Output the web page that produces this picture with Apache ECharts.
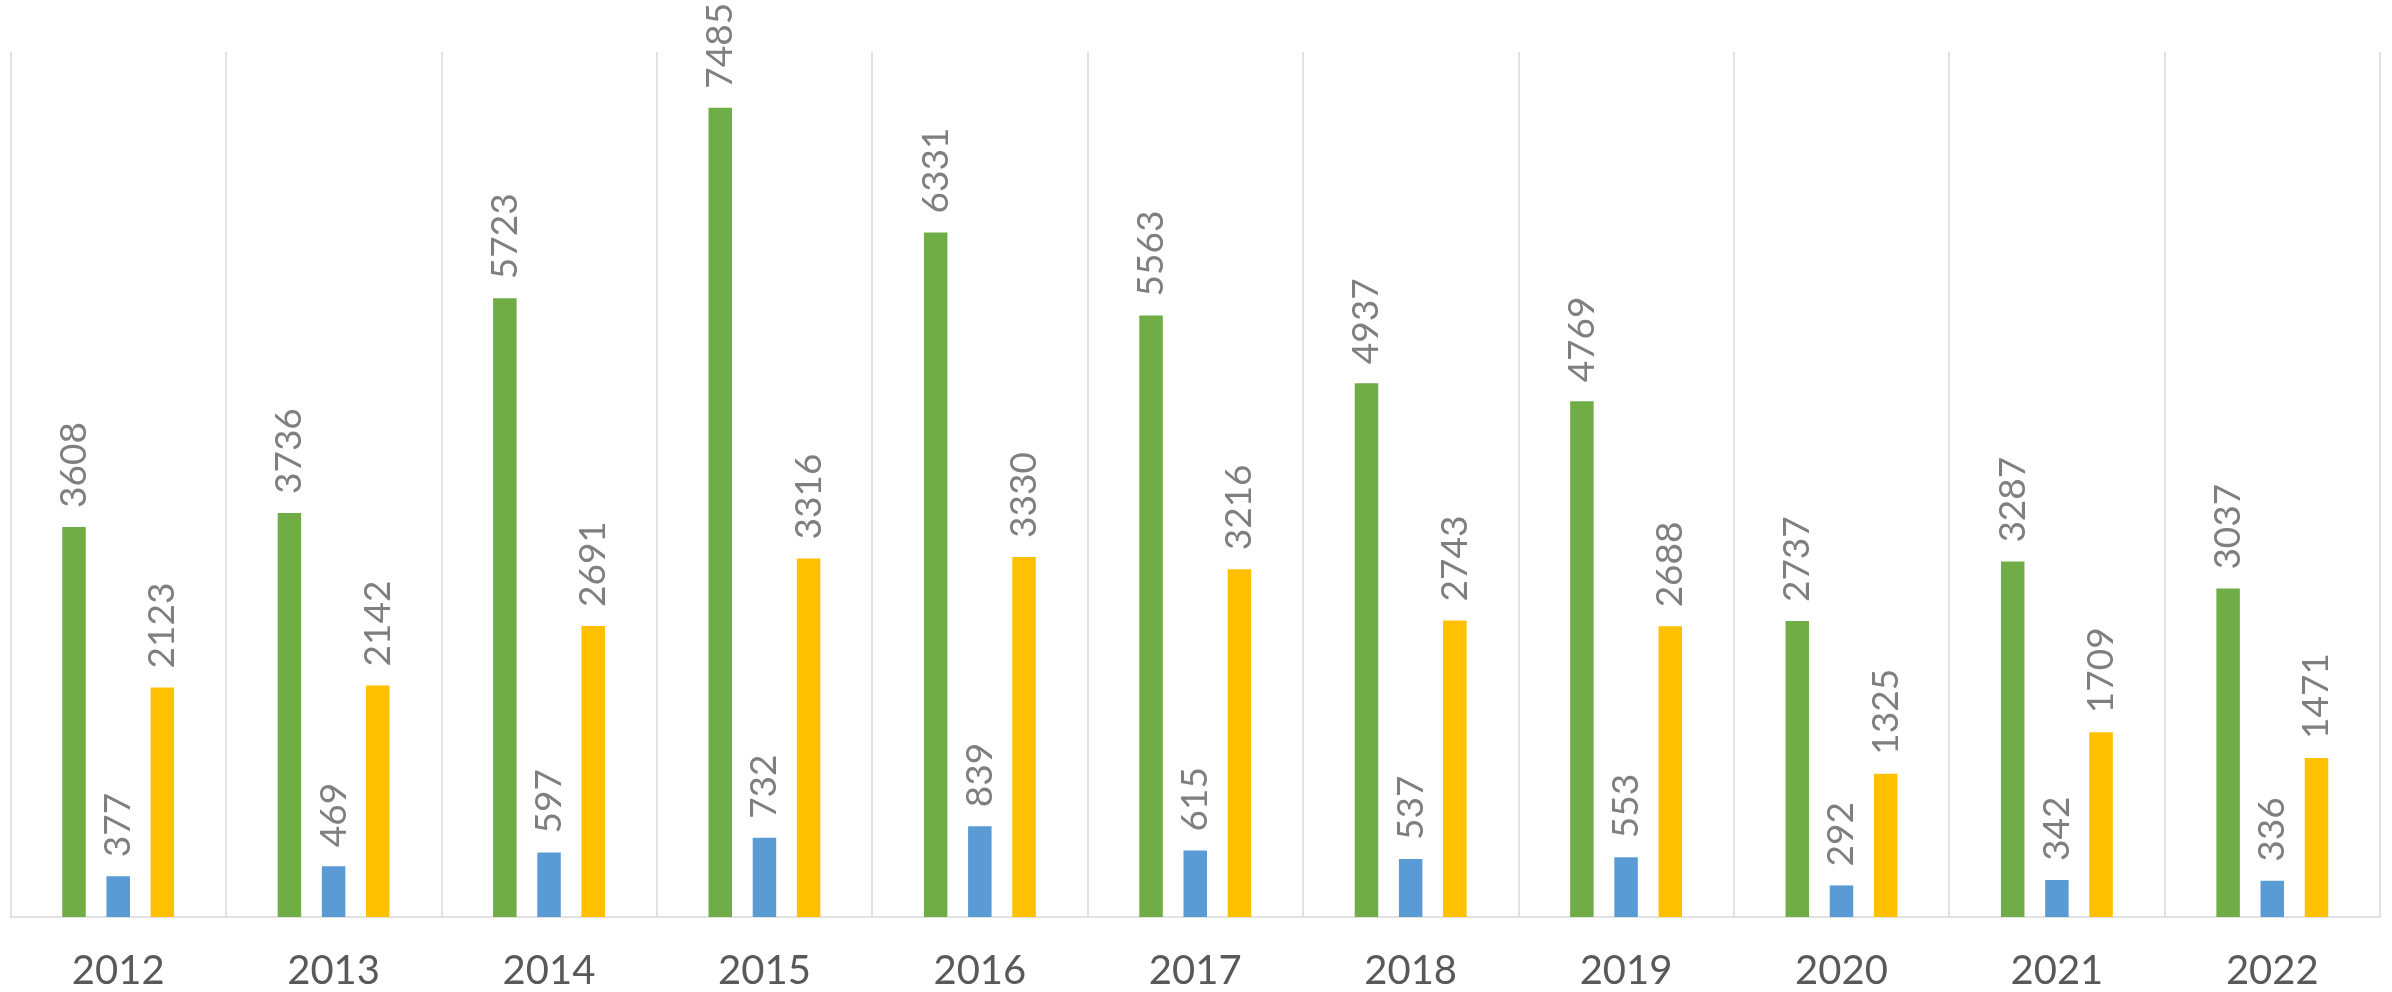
<!DOCTYPE html>
<html>
<head>
<meta charset="utf-8">
<script src="https://cdn.jsdelivr.net/npm/echarts@6/dist/echarts.min.js"></script>
<style>
  html, body { margin: 0; padding: 0; background: #fff; }
  #chart { width: 2392px; height: 992px; }
</style>
</head>
<body>
<div id="chart"></div>
<script>
const years = ['2012', '2013', '2014', '2015', '2016', '2017', '2018', '2019', '2020', '2021', '2022'];
const greenValues = [3608, 3736, 5723, 7485, 6331, 5563, 4937, 4769, 2737, 3287, 3037];
const blueValues = [377, 469, 597, 732, 839, 615, 537, 553, 292, 342, 336];
const yellowValues = [2123, 2142, 2691, 3316, 3330, 3216, 2743, 2688, 1325, 1709, 1471];

const labelStyle = {
  show: true,
  position: 'top',
  rotate: 90,
  align: 'left',
  verticalAlign: 'middle',
  distance: 19,
  color: '#7f7f7f',
  fontSize: 37,
  fontFamily: 'Lato'
};

function makeSeries(name, data, color) {
  return {
    name: name,
    type: 'bar',
    data: data,
    barWidth: 23.5,
    barGap: '88%',
    itemStyle: { color: color },
    label: labelStyle
  };
}

const option = {
  animation: false,
  grid: {
    left: 10.5,
    right: 12,
    top: 52,
    bottom: 75
  },
  xAxis: {
    type: 'category',
    data: years,
    axisLine: { lineStyle: { color: '#d9d9d9', width: 1.5 } },
    axisTick: { show: false },
    splitLine: { show: true, lineStyle: { color: '#d9d9d9', width: 1.5 } },
    axisLabel: {
      color: '#595959',
      fontSize: 40,
      fontFamily: 'Lato',
      margin: 34
    }
  },
  yAxis: {
    type: 'value',
    min: 0,
    max: 8000,
    show: false,
    splitLine: { show: false }
  },
  series: [
    makeSeries('green', greenValues, '#70ad47'),
    makeSeries('blue', blueValues, '#5b9bd5'),
    makeSeries('yellow', yellowValues, '#ffc000')
  ]
};

const myChart = echarts.init(document.getElementById('chart'));
myChart.setOption(option);
</script>
</body>
</html>
